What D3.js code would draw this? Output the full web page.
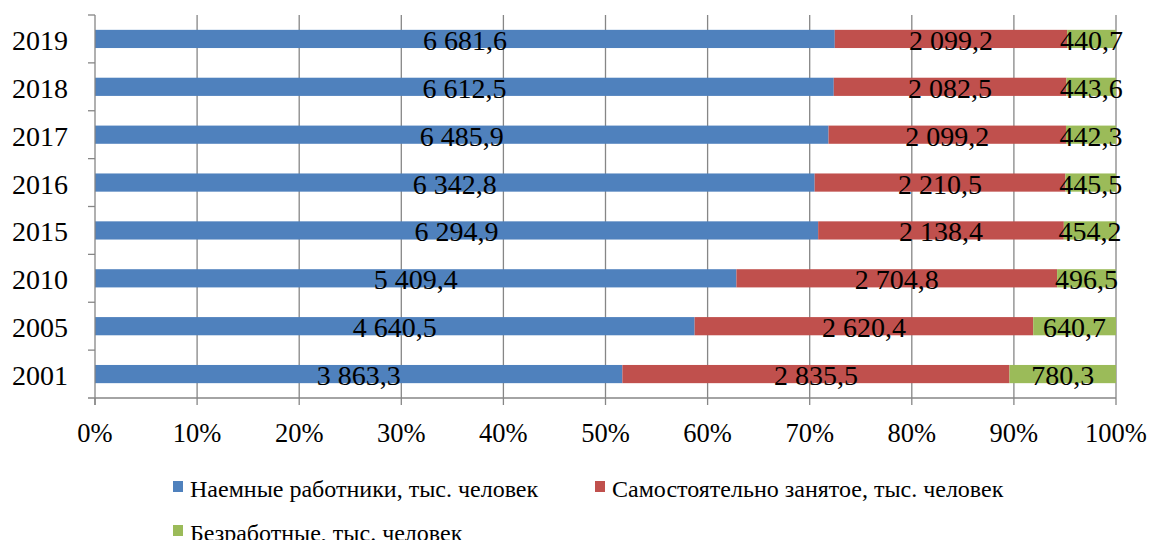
<!DOCTYPE html>
<html>
<head>
<meta charset="utf-8">
<script src="https://cdn.jsdelivr.net/npm/d3@7"></script>
</head>
<body style="margin:0;background:#fff">
<svg id="chart" width="1151" height="540"></svg>
<script>
// Employment structure by year (thousand people)
const years = ["2019", "2018", "2017", "2016", "2015", "2010", "2005", "2001"];
const hired = [6681.6, 6612.5, 6485.9, 6342.8, 6294.9, 5409.4, 4640.5, 3863.3];
const selfEmployed = [2099.2, 2082.5, 2099.2, 2210.5, 2138.4, 2704.8, 2620.4, 2835.5];
const unemployed = [440.7, 443.6, 442.3, 445.5, 454.2, 496.5, 640.7, 780.3];
const seriesNames = [
  "Наемные работники, тыс. человек",
  "Самостоятельно занятое, тыс. человек",
  "Безработные, тыс. человек"
];
const colors = ["#4F81BD", "#C0504D", "#9BBB59"];
const tickValues = [0, 0.1, 0.2, 0.3, 0.4, 0.5, 0.6, 0.7, 0.8, 0.9, 1];

const FONT = "Liberation Serif";
const svg = d3.select("#chart");
const plotLeft = 95, plotRight = 1116, plotTop = 15, plotBottom = 398;

const x = d3.scaleLinear().domain([0, 1]).range([plotLeft, plotRight]);
const y = d3.scaleBand().domain(years).range([plotTop, plotBottom]).paddingInner(0.62).paddingOuter(0.31);
const yBounds = d3.scaleLinear().domain([0, years.length]).range([plotTop, plotBottom]);

const ru = d3.formatLocale({ decimal: ",", thousands: " ", grouping: [3], currency: ["", ""] });
const fmt = ru.format(",.1f");

// gridlines
svg.append("g").selectAll("line").data(tickValues.slice(1)).join("line")
  .attr("x1", d => x(d)).attr("x2", d => x(d))
  .attr("y1", plotTop).attr("y2", plotBottom)
  .attr("stroke", "#868686").attr("stroke-width", 1.3);

// stacked rows
const rows = years.map((yr, i) => {
  const vals = [hired[i], selfEmployed[i], unemployed[i]];
  const total = d3.sum(vals);
  let acc = 0;
  return vals.map((v, k) => {
    const s = { year: yr, k, v, x0: acc / total, x1: (acc + v) / total };
    acc += v;
    return s;
  });
}).flat();

svg.append("g").selectAll("rect").data(rows).join("rect")
  .attr("x", d => x(d.x0))
  .attr("width", d => x(d.x1) - x(d.x0))
  .attr("y", d => y(d.year))
  .attr("height", y.bandwidth())
  .attr("fill", d => colors[d.k]);

svg.append("g").selectAll("text").data(rows).join("text")
  .attr("x", d => (x(d.x0) + x(d.x1)) / 2)
  .attr("y", d => y(d.year) + y.bandwidth() / 2 + 11)
  .attr("text-anchor", "middle")
  .attr("font-size", 28)
  .attr("font-family", FONT)
  .style("font-family", FONT)
  .text(d => fmt(d.v));

// axes
const ax = svg.append("g").attr("stroke", "#868686").attr("stroke-width", 1.3);
ax.append("line").attr("x1", plotLeft).attr("x2", plotLeft).attr("y1", plotTop).attr("y2", plotBottom + 7);
ax.append("line").attr("x1", plotLeft - 7).attr("x2", plotRight).attr("y1", plotBottom).attr("y2", plotBottom);
ax.selectAll(".yt").data(d3.range(years.length)).join("line")
  .attr("x1", plotLeft - 7).attr("x2", plotLeft)
  .attr("y1", d => yBounds(d)).attr("y2", d => yBounds(d));
ax.selectAll(".xt").data(tickValues).join("line")
  .attr("x1", d => x(d)).attr("x2", d => x(d))
  .attr("y1", plotBottom).attr("y2", plotBottom + 7);

svg.append("g").selectAll("text").data(years).join("text")
  .attr("x", 68).attr("y", d => y(d) + y.bandwidth() / 2 + 11)
  .attr("text-anchor", "end")
  .attr("font-size", 28)
  .attr("font-family", FONT)
  .style("font-family", FONT)
  .text(d => d);

svg.append("g").selectAll("text").data(tickValues).join("text")
  .attr("x", d => x(d)).attr("y", 442)
  .attr("text-anchor", "middle")
  .attr("font-size", 26.5)
  .attr("font-family", FONT)
  .style("font-family", FONT)
  .text(d3.format(".0%"));

// legend
const legendPos = [[173, 481], [595, 481], [173, 525]];
const lg = svg.append("g").selectAll("g").data(seriesNames).join("g")
  .attr("transform", (d, i) => `translate(${legendPos[i][0]},${legendPos[i][1]})`);
lg.append("rect").attr("width", 10).attr("height", 11).attr("fill", (d, i) => colors[i]);
lg.append("text").attr("x", 17).attr("y", 16)
  .attr("font-size", 24)
  .attr("font-family", FONT)
  .style("font-family", FONT)
  .text(d => d);
</script>
</body>
</html>
